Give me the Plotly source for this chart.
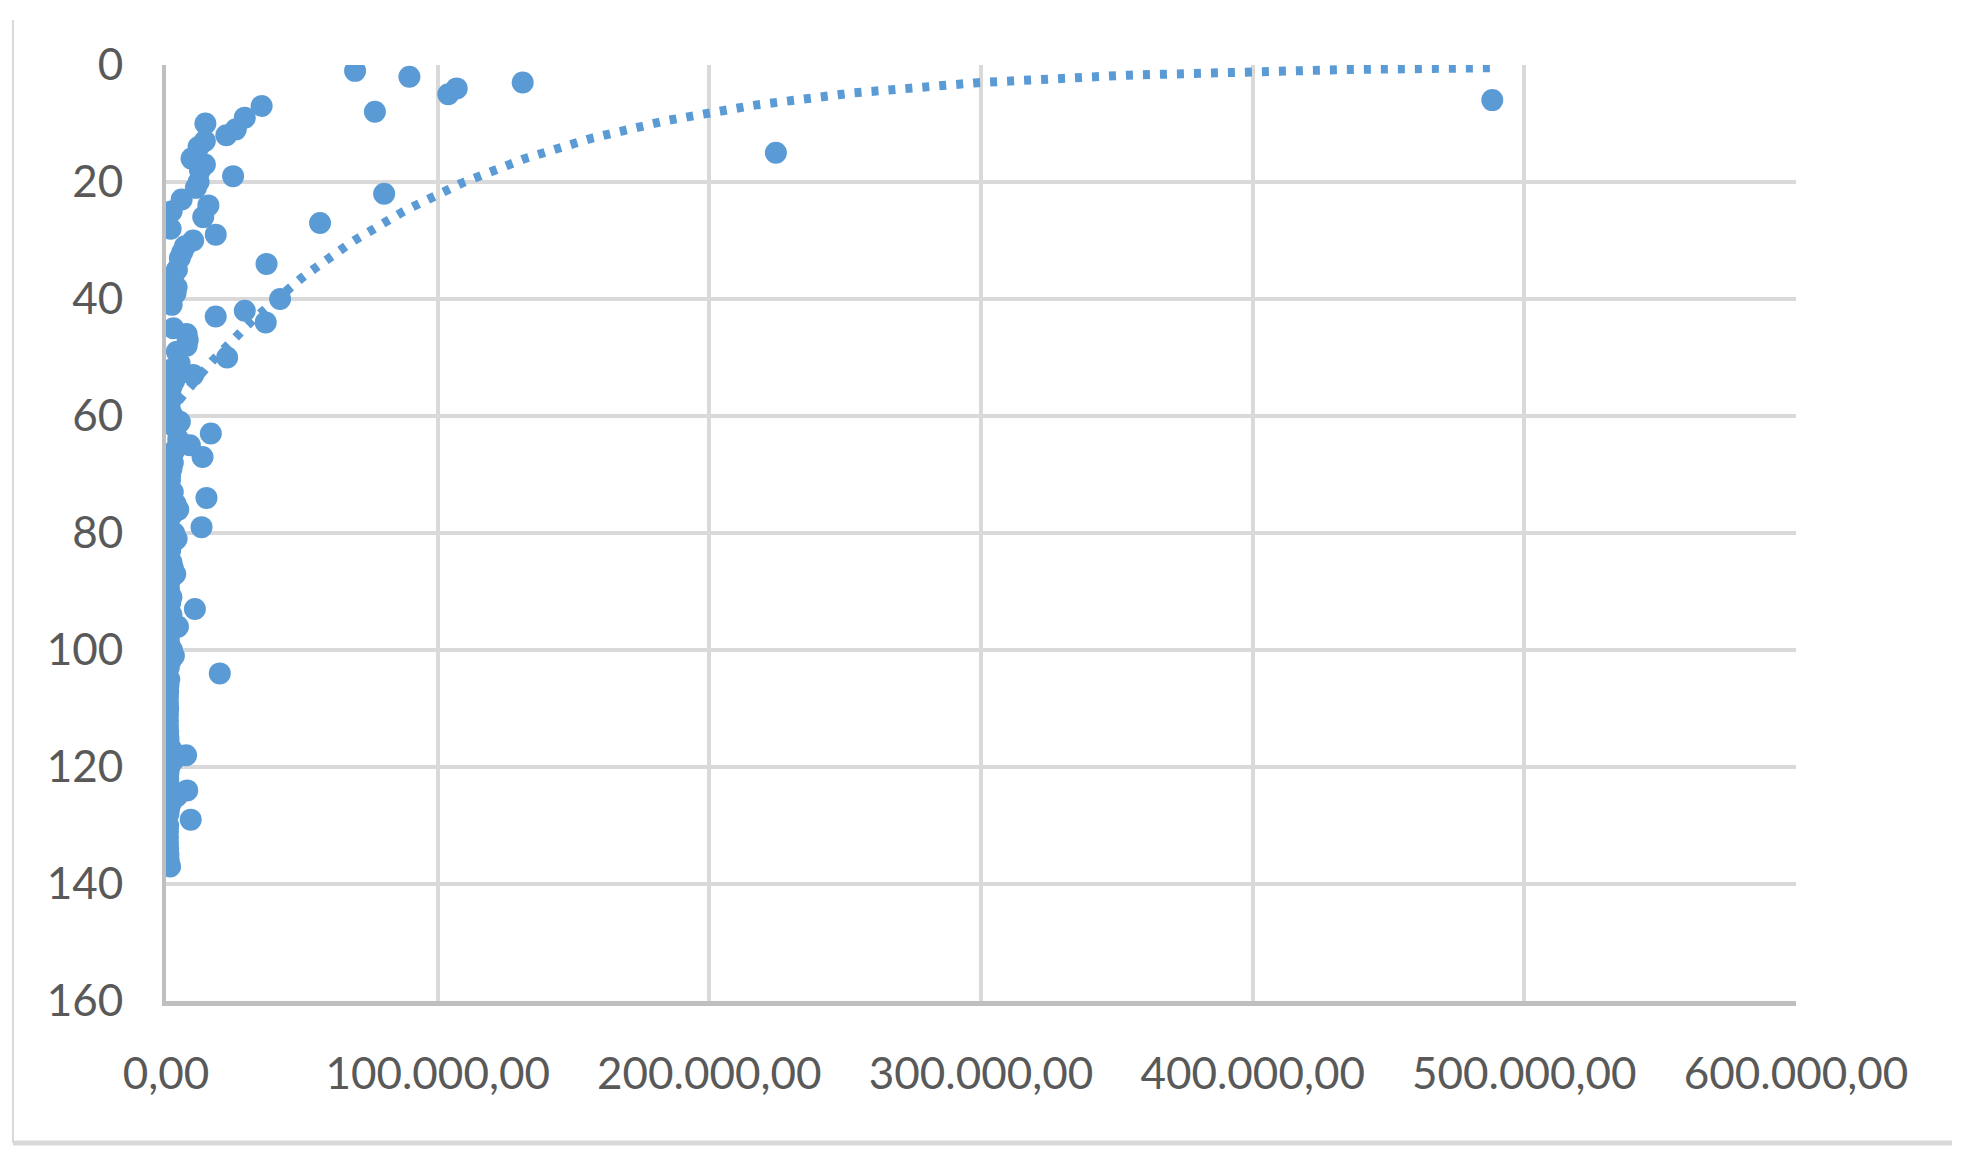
import numpy as np
import plotly.graph_objects as go

# rank (y axis, reversed) against value (x axis)
rank = list(range(1, 138))
value = [
    69600, 89600, 131300, 107000, 103900, 488200, 35200, 76900, 29000, 14500,
    25700, 22200, 14300, 12000, 224500, 9400, 14300, 12500, 24700, 12000,
    11000, 80300, 5750, 15600, 2080, 13700, 56700, 1700, 18300, 10000,
    7000, 6000, 5100, 37000, 4000, 2700, 2000, 3900, 3500, 42000,
    2080, 29000, 18300, 36700, 2700, 7600, 8000, 7600, 4000, 22500,
    5000, 2080, 10000, 3000, 2000, 1500, 2080, 1200, 1500, 2500,
    5100, 3500, 16500, 4500, 8800, 3000, 13450, 2500, 2000, 1500,
    1470, 1200, 2500, 14900, 3500, 4500, 2000, 850, 13080, 3000,
    3900, 2000, 1500, 1000, 2000, 2500, 3400, 1500, 1000, 1200,
    2000, 1500, 10630, 2000, 1200, 4400, 1500, 1000, 1200, 2200,
    2900, 1500, 1000, 19800, 1200, 900, 800, 700, 700, 800,
    700, 700, 700, 800, 900, 1000, 2000, 7400, 2500, 1200,
    900, 800, 1000, 7800, 4000, 2000, 1200, 900, 9100, 800,
    700, 700, 700, 800, 900, 1000, 1500,
]

# exponential trend y = a * exp(-k * x), coefficients
trend_a = 60.0
trend_k = 1.0e-5

x_ticks = [0, 100000, 200000, 300000, 400000, 500000, 600000]
y_ticks = [0, 20, 40, 60, 80, 100, 120, 140, 160]

blue = "#5b9bd5"
grid = "#d9d9d9"
axis_col = "#bfbfbf"

trend_x = np.linspace(min(value), max(value), 300)
trend_y = trend_a * np.exp(-trend_k * trend_x)

fig = go.Figure()
fig.add_trace(go.Scatter(
    x=value, y=rank, mode="markers",
    marker=dict(size=22, color=blue, line=dict(width=0)),
))
fig.add_trace(go.Scatter(
    x=trend_x, y=trend_y, mode="lines",
    line=dict(color=blue, width=9, dash="7px,10px"),
))

fig.update_layout(
    width=1971, height=1168,
    margin=dict(l=166, r=175, t=65, b=167),
    paper_bgcolor="white", plot_bgcolor="white",
    showlegend=False,
    separators=",.",
    font=dict(family="Lato, 'Liberation Sans', sans-serif", size=44, color="#595959"),
)
fig.update_xaxes(
    range=[0, 600000], tickvals=x_ticks, tickformat=",.2f",
    showgrid=True, gridcolor=grid, gridwidth=4,
    showline=True, linecolor=axis_col, linewidth=5,
    zeroline=False, ticks="", ticklabelstandoff=30,
)
fig.update_yaxes(
    range=[160, 0], tickvals=y_ticks,
    showgrid=True, gridcolor=grid, gridwidth=4,
    showline=True, linecolor=axis_col, linewidth=4,
    zeroline=False, ticks="", ticklabelstandoff=30,
)

# chart area border (left and bottom edges visible)
fig.add_shape(type="line", xref="paper", yref="paper",
              x0=-0.0939, x1=-0.0939, y0=1.048, y1=-0.1517,
              line=dict(color=grid, width=2))
fig.add_shape(type="line", xref="paper", yref="paper",
              x0=-0.0939, x1=1.0957, y0=-0.1517, y1=-0.1517,
              line=dict(color=grid, width=5))

fig.write_html("out.html", config={"displayModeBar": False},
               post_script="document.body.style.margin='0';")
